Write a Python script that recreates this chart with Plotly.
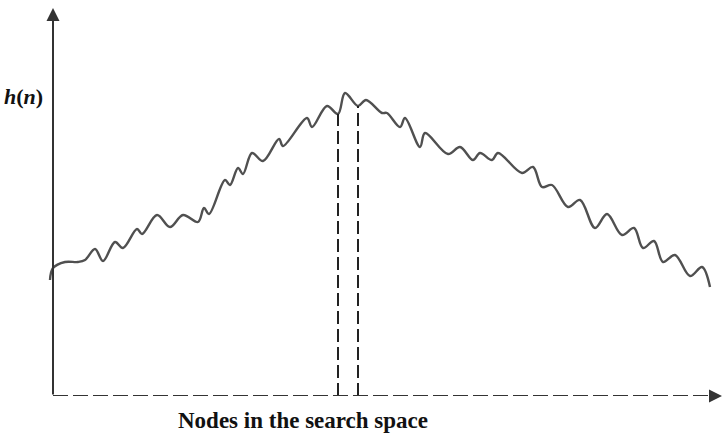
import plotly.graph_objects as go

# Heuristic value h(n) sampled along the search space (node index -> h)
nodes = [-3, 0, 12, 25, 32, 42, 50, 62, 70, 84, 89, 104, 117, 130, 145, 151, 156,
         172, 177, 185, 190, 199, 210, 226, 230, 254, 259, 274, 285, 292, 305, 313,
         329, 334, 347, 352, 367, 372, 395, 407, 420, 427, 439, 445, 469, 480, 489,
         499, 515, 527, 542, 554, 569, 581, 590, 601, 610, 622, 637, 649, 657]
h_vals = [116, 128, 134, 134, 136, 147, 135, 154, 148, 167, 162, 181, 169, 181, 174, 188, 182,
          216, 211, 228, 222, 243, 235, 257, 250, 278, 269, 290, 282, 303, 290, 296,
          283, 283, 269, 278, 249, 263, 242, 249, 236, 243, 236, 243, 223, 229, 209,
          211, 189, 196, 168, 182, 161, 168, 148, 155, 134, 141, 120, 129, 109]

# Two nodes marked around the peak
marked_nodes = [285, 305]
marked_tops = [282, 290]

x_end = 669
y_end = 388

SERIF = "Liberation Serif"

fig = go.Figure()
fig.add_trace(go.Scatter(
    x=nodes, y=h_vals, mode="lines",
    line=dict(color="#505050", width=2.4, shape="spline", smoothing=1.0),
    hoverinfo="skip", showlegend=False,
))

shapes = []
for xm, ym in zip(marked_nodes, marked_tops):
    shapes.append(dict(type="line", xref="x", yref="y", x0=xm, x1=xm, y0=0, y1=ym,
                       line=dict(color="#222", width=2, dash="13px,5px")))
# dashed horizontal axis
shapes.append(dict(type="line", xref="x", yref="y", x0=0, x1=x_end - 12, y0=0, y1=0,
                   line=dict(color="#333", width=2, dash="15px,5px")))

annotations = [
    # vertical axis with arrow
    dict(x=0, y=y_end, ax=0, ay=0, xref="x", yref="y", axref="x", ayref="y",
         showarrow=True, arrowhead=2, arrowsize=1.3, arrowwidth=2, arrowcolor="#333", text=""),
    # arrow tip of the horizontal axis
    dict(x=x_end, y=0, ax=x_end - 14, ay=0, xref="x", yref="y", axref="x", ayref="y",
         showarrow=True, arrowhead=2, arrowsize=1.3, arrowwidth=2, arrowcolor="#333", text=""),
    dict(x=-0.004, y=0.771, xref="paper", yref="paper", xanchor="right", yanchor="middle",
         text="<b><i>h</i>(<i>n</i>)</b>", showarrow=False,
         font=dict(family=SERIF, size=22, color="#111")),
    dict(x=0.378, y=-0.064, xref="paper", yref="paper", xanchor="center", yanchor="middle",
         text="<b>Nodes in the search space</b>", showarrow=False,
         font=dict(family=SERIF, size=23, color="#111")),
]

fig.update_layout(
    width=725, height=438,
    margin=dict(l=48, r=3, t=8, b=42),
    paper_bgcolor="white", plot_bgcolor="white",
    xaxis=dict(range=[-5, x_end], visible=False, fixedrange=True),
    yaxis=dict(range=[0, y_end], visible=False, fixedrange=True),
    shapes=shapes, annotations=annotations,
    showlegend=False,
)

fig.write_html("out.html")
